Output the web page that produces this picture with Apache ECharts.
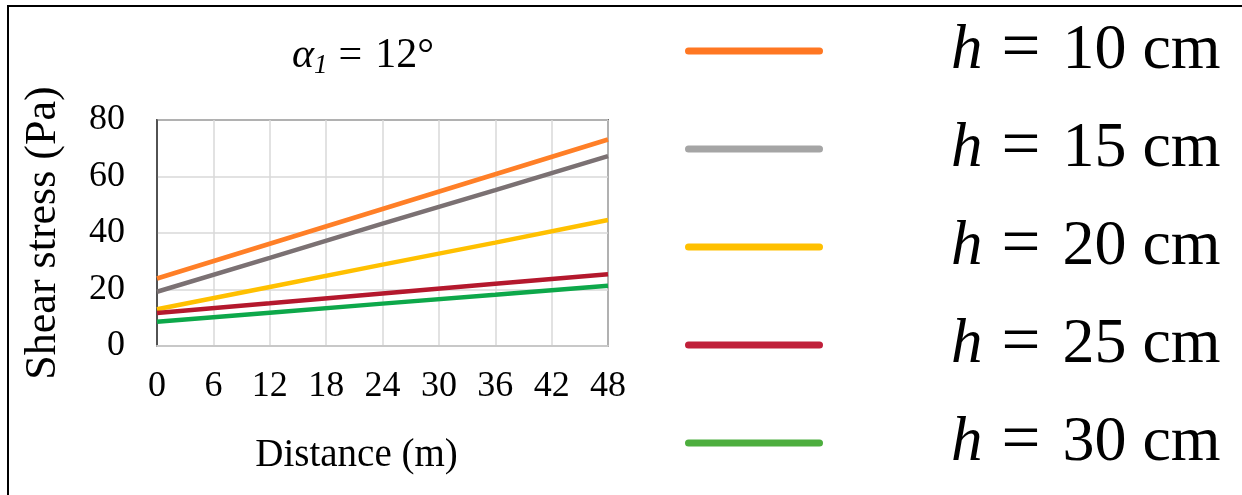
<!DOCTYPE html>
<html>
<head>
<meta charset="utf-8">
<script src="https://cdn.jsdelivr.net/npm/echarts@6/dist/echarts.min.js"></script>
<style>
  html, body { margin: 0; padding: 0; background: #fff; }
  #chart { width: 1242px; height: 495px; }
</style>
</head>
<body>
<div id="chart"></div>
<script>
// Distance along the channel (m) at which shear stress was read
const distance = [0, 12, 24, 36, 48];

// Shear stress (Pa) for each flow depth h
const h10 = [23.9, 36.2, 48.5, 60.8, 73.1];
const h15 = [19.2, 31.2, 43.3, 55.2, 67.2];
const h20 = [13.0, 20.9, 28.8, 36.6, 44.6];
const h25 = [11.7, 15.1, 18.6, 22.0, 25.4];
const h30 = [8.6, 11.8, 15.0, 18.1, 21.3];

const depthNames = ['h = 10 cm', 'h = 15 cm', 'h = 20 cm', 'h = 25 cm', 'h = 30 cm'];
const depthValues = [h10, h15, h20, h25, h30];
const lineColors = ['#FF7F27', '#7B7173', '#FFC000', '#B4182D', '#0DA84A'];
const keyColors = ['#FF7722', '#A5A5A5', '#FFC000', '#C0203A', '#4DAE3E'];

const xTicks = { min: 0, max: 48, step: 6 };
const yTicks = { min: 0, max: 80, step: 20 };

const serif = "'Liberation Serif', 'Times New Roman', serif";

const series = depthNames.map((name, i) => ({
  name: name,
  type: 'line',
  showSymbol: false,
  symbol: 'none',
  data: distance.map((d, k) => [d, depthValues[i][k]]),
  lineStyle: { color: lineColors[i], width: 4.5 },
  itemStyle: { color: lineColors[i] },
  emphasis: { disabled: true }
}));

const chart = echarts.init(document.getElementById('chart'), null, { renderer: 'canvas' });

chart.setOption({
  animation: false,
  backgroundColor: '#fff',
  legend: {
    orient: 'vertical',
    left: 685,
    top: 16,
    padding: 0,
    itemGap: 28,
    itemWidth: 138,
    itemHeight: 7,
    icon: 'path://M3.5,0 L134.5,0 A3.5,3.5 0 0 1 134.5,7 L3.5,7 A3.5,3.5 0 0 1 3.5,0 Z',
    selectedMode: false,
    data: depthNames.map((n, i) => ({ name: n, itemStyle: { color: keyColors[i] } })),
    formatter: function (name) {
      const rest = name.slice(4);
      return '{sp|}{h|h}{eq|=}{n|' + rest + '}';
    },
    textStyle: {
      fontFamily: serif,
      fontSize: 63,
      lineHeight: 70,
      color: '#000',
      rich: {
        sp: { width: 123, lineHeight: 70 },
        h: { fontFamily: serif, fontSize: 63, fontStyle: 'italic', color: '#000', lineHeight: 70 },
        eq: { fontFamily: serif, fontSize: 69, color: '#000', lineHeight: 70, padding: [0, 22, 0, 19] },
        n: { fontFamily: serif, fontSize: 64, color: '#000', lineHeight: 70 }
      }
    }
  },
  grid: {
    left: 157,
    top: 120,
    right: 634,
    bottom: 149,
    show: true,
    borderColor: '#000',
    borderWidth: 1.5,
    backgroundColor: 'transparent'
  },
  xAxis: {
    type: 'value',
    min: xTicks.min,
    max: xTicks.max,
    interval: xTicks.step,
    name: 'Distance (m)',
    nameLocation: 'middle',
    nameGap: 90,
    nameTextStyle: { fontFamily: serif, fontSize: 39, color: '#000', padding: [0, 52, 0, 0] },
    axisLine: { show: true, onZero: false, lineStyle: { color: '#c8c8c8', width: 2 } },
    axisTick: { show: false },
    axisLabel: { fontFamily: serif, fontSize: 36, color: '#000', margin: 23 },
    splitLine: { show: true, lineStyle: { color: '#d9d9d9', width: 1.5 } }
  },
  yAxis: {
    type: 'value',
    min: yTicks.min,
    max: yTicks.max,
    interval: yTicks.step,
    name: 'Shear stress (Pa)',
    nameLocation: 'middle',
    nameGap: 92,
    nameRotate: 90,
    nameTextStyle: { fontFamily: serif, fontSize: 44, color: '#000' },
    axisLine: { show: true, lineStyle: { color: '#333', width: 1.5 } },
    axisTick: { show: false },
    axisLabel: { fontFamily: serif, fontSize: 36, color: '#000', margin: 32 },
    splitLine: { show: true, lineStyle: { color: '#d9d9d9', width: 1.5 } }
  },
  graphic: [
    {
      // panel heading: inclination angle of the channel
      type: 'text',
      silent: true,
      x: 292,
      y: 56,
      style: {
        text: '{a|α}{s|1}{e|=}{t|12°}',
        font: "42px 'Liberation Serif', serif",
        verticalAlign: 'middle',
        fill: '#000',
        rich: {
          a: { font: "italic 42px 'Liberation Serif', serif", fill: '#000', lineHeight: 46, verticalAlign: 'middle' },
          s: { font: "italic 27px 'Liberation Serif', serif", fill: '#000', lineHeight: 27, verticalAlign: 'bottom' },
          e: { font: "42px 'Liberation Serif', serif", fill: '#000', lineHeight: 46, verticalAlign: 'middle', padding: [0, 0, 0, 11] },
          t: { font: "42px 'Liberation Serif', serif", fill: '#000', lineHeight: 46, verticalAlign: 'middle', padding: [0, 0, 0, 13] }
        }
      }
    },
    {
      type: 'rect',
      silent: true,
      shape: { x: 8, y: 6, width: 1400, height: 700 },
      style: { fill: 'none', stroke: '#000', lineWidth: 2 },
      z: 100
    }
  ],
  series: series
});
</script>
</body>
</html>
